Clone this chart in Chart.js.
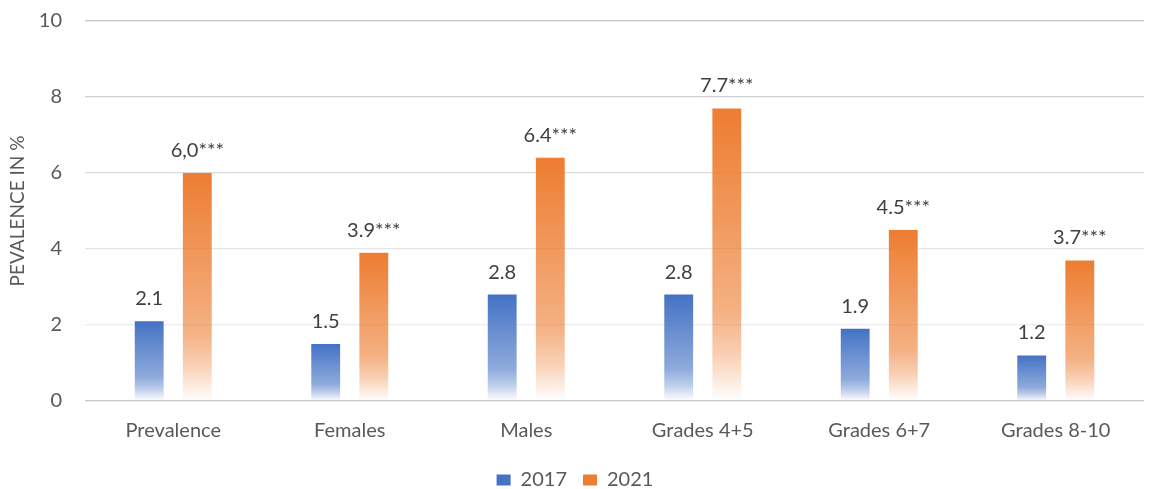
<!DOCTYPE html>
<html>
<head>
<meta charset="utf-8">
<script src="https://cdn.jsdelivr.net/npm/chart.js@4"></script>
<style>
  html, body { margin: 0; padding: 0; background: #fff; }
  #wrap { width: 1152px; height: 489px; }
</style>
</head>
<body>
<div id="wrap"><canvas id="chart"></canvas></div>
<script>
// Data
const categories = ['Prevalence', 'Females', 'Males', 'Grades 4+5', 'Grades 6+7', 'Grades 8-10'];
const values2017 = [2.1, 1.5, 2.8, 2.8, 1.9, 1.2];
const values2021 = [6.0, 3.9, 6.4, 7.7, 4.5, 3.7];
const labels2017 = ['2.1', '1.5', '2.8', '2.8', '1.9', '1.2'];
const labels2021 = ['6,0***', '3.9***', '6.4***', '7.7***', '4.5***', '3.7***'];
const yTicks = [0, 2, 4, 6, 8, 10];

const FONT = 'Lato, "Open Sans", sans-serif';
const BLUE = '68,114,196';
const ORANGE = '237,125,49';

// gradient from full colour at the bar top to white at the base
function barGradient(rgb) {
    return function(ctx) {
        const chart = ctx.chart;
        const y = chart.scales.y;
        if (!chart.chartArea || !y || ctx.raw == null) return 'rgb(' + rgb + ')';
        const top = y.getPixelForValue(ctx.raw);
        const base = y.getPixelForValue(0);
        const g = chart.ctx.createLinearGradient(0, top, 0, base);
        g.addColorStop(0, 'rgba(' + rgb + ',1)');
        g.addColorStop(0.7, 'rgba(' + rgb + ',0.6)');
        g.addColorStop(0.85, 'rgba(' + rgb + ',0.35)');
        g.addColorStop(1, 'rgba(' + rgb + ',0)');
        return g;
    };
}

// value labels above each bar
const barLabels = {
    id: 'barLabels',
    afterDatasetsDraw(chart) {
        const ctx = chart.ctx;
        const texts = [labels2017, labels2021];
        ctx.save();
        ctx.font = '20px ' + FONT;
        ctx.fillStyle = '#404040';
        ctx.textAlign = 'center';
        ctx.textBaseline = 'alphabetic';
        chart.data.datasets.forEach((ds, i) => {
            chart.getDatasetMeta(i).data.forEach((bar, j) => {
                ctx.fillText(texts[i][j], bar.x, bar.y - 16);
            });
        });
        ctx.restore();
    }
};

const gridColors = { 0: '#c8c8c8', 2: '#ececec', 4: '#e6e6e6', 6: '#dcdcdc', 8: '#cfcfcf', 10: '#c4c4c4' };

new Chart(document.getElementById('chart'), {
    type: 'bar',
    data: {
        labels: categories,
        datasets: [{
            label: '2017',
            data: values2017,
            backgroundColor: barGradient(BLUE),
            borderWidth: 0,
            barPercentage: 0.6,
            categoryPercentage: 0.545
        }, {
            label: '2021',
            data: values2021,
            backgroundColor: barGradient(ORANGE),
            borderWidth: 0,
            barPercentage: 0.6,
            categoryPercentage: 0.545
        }]
    },
    options: {
        responsive: true,
        maintainAspectRatio: false,
        animation: false,
        layout: { padding: { left: 6, right: 8, top: 21, bottom: -11 } },
        scales: {
            x: {
                grid: { display: false },
                border: { display: false },
                afterFit: scale => { scale.height = 53; },
                ticks: { color: '#595959', font: { family: FONT, size: 20 }, padding: 10 }
            },
            y: {
                min: 0,
                max: 10,
                afterBuildTicks: scale => { scale.ticks = yTicks.map(v => ({ value: v })); },
                afterFit: scale => {
                    scale.width = 79;
                    scale.paddingTop = 0;
                    scale.paddingBottom = 0;
                },
                border: { display: false },
                grid: {
                    drawTicks: false,
                    lineWidth: 1.3,
                    color: ctx => gridColors[ctx.tick.value] || '#d9d9d9'
                },
                ticks: { color: '#595959', font: { family: FONT, size: 20 }, padding: 23 },
                title: {
                    display: true,
                    text: 'PEVALENCE IN %',
                    color: '#595959',
                    font: { family: FONT, size: 19 },
                    padding: { top: 0, bottom: 0 }
                }
            }
        },
        plugins: {
            legend: {
                position: 'bottom',
                labels: {
                    color: '#595959',
                    font: { family: FONT, size: 20 },
                    boxWidth: 14,
                    boxHeight: 11,
                    padding: 16,
                    generateLabels: chart => chart.data.datasets.map((ds, i) => {
                        const c = 'rgb(' + (i === 0 ? BLUE : ORANGE) + ')';
                        return {
                            text: ds.label,
                            fillStyle: c,
                            strokeStyle: c,
                            lineWidth: 0,
                            fontColor: '#595959',
                            hidden: false,
                            datasetIndex: i
                        };
                    })
                }
            },
            tooltip: { enabled: false }
        }
    },
    plugins: [barLabels]
});
</script>
</body>
</html>
